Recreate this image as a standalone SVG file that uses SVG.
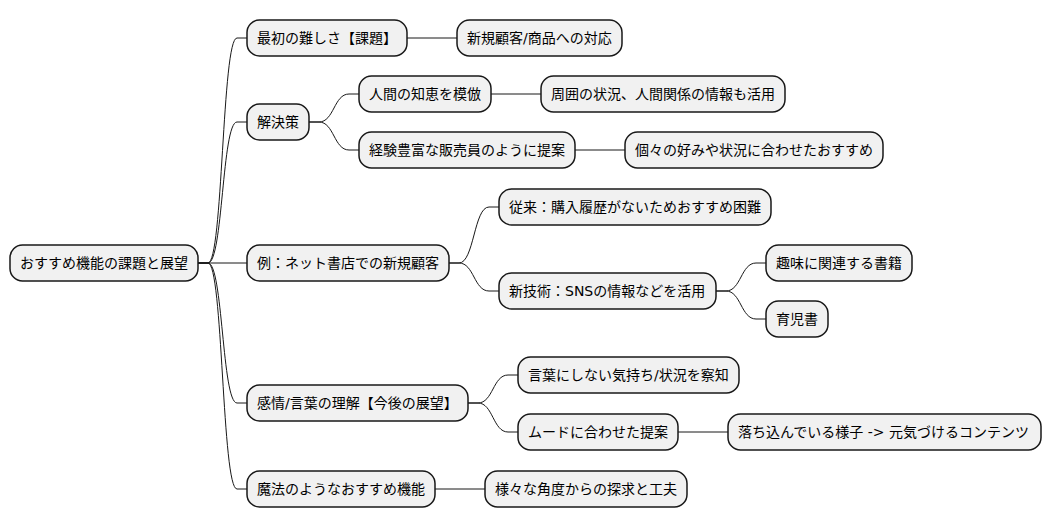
<svg xmlns="http://www.w3.org/2000/svg" width="1051" height="527" viewBox="0 0 1051 527">
<style>
.n rect{fill:#F1F1F1;stroke:#181818;stroke-width:1.5}
.n text{font-family:"DejaVu Sans","Noto Sans CJK JP",sans-serif;font-size:14px;fill:#000}
#links path{fill:none;stroke:#181818;stroke-width:1}
</style>
<rect width="1051" height="527" fill="#FFFFFF"/>
<g id="links">
<path d="M198,263 L208,263 C223,263 222,38 237,38 L247,38"/>
<path d="M198,263 L208,263 C223,263 222,122 237,122 L247,122"/>
<path d="M198,263 L247,263"/>
<path d="M198,263 L208,263 C223,263 222,403 237,403 L247,403"/>
<path d="M198,263 L208,263 C223,263 222,489 237,489 L247,489"/>
<path d="M407,38 L457,38"/>
<path d="M309,122 L319,122 C334,122 334,94 349,94 L359,94"/>
<path d="M309,122 L319,122 C334,122 334,150 349,150 L359,150"/>
<path d="M491,94 L541,94"/>
<path d="M575,150 L625,150"/>
<path d="M449,263 L459,263 C474,263 474,207 489,207 L499,207"/>
<path d="M449,263 L459,263 C474,263 474,291 489,291 L499,291"/>
<path d="M716,291 L726,291 C741,291 741,263 756,263 L766,263"/>
<path d="M716,291 L726,291 C741,291 741,319 756,319 L766,319"/>
<path d="M468,403 L478,403 C493,403 493,375 508,375 L518,375"/>
<path d="M468,403 L478,403 C493,403 493,432 508,432 L518,432"/>
<path d="M678,432 L728,432"/>
<path d="M435,489 L485,489"/>
</g>
<g id="root" class="n"><rect x="10" y="245" width="188" height="36" rx="12.5"/><text x="20" y="268">おすすめ機能の課題と展望</text></g>
<g id="n-a" class="n"><rect x="247" y="20" width="160" height="36" rx="12.5"/><text x="257" y="43">最初の難しさ【課題】</text></g>
<g id="n-a1" class="n"><rect x="457" y="20" width="165" height="36" rx="12.5"/><text x="467" y="43">新規顧客/商品への対応</text></g>
<g id="n-b" class="n"><rect x="247" y="104" width="62" height="36" rx="12.5"/><text x="257" y="127">解決策</text></g>
<g id="n-b1" class="n"><rect x="359" y="76" width="132" height="36" rx="12.5"/><text x="369" y="99">人間の知恵を模倣</text></g>
<g id="n-b1a" class="n"><rect x="541" y="76" width="244" height="36" rx="12.5"/><text x="551" y="99">周囲の状況、人間関係の情報も活用</text></g>
<g id="n-b2" class="n"><rect x="359" y="132" width="216" height="36" rx="12.5"/><text x="369" y="155">経験豊富な販売員のように提案</text></g>
<g id="n-b2a" class="n"><rect x="625" y="132" width="258" height="36" rx="12.5"/><text x="635" y="155">個々の好みや状況に合わせたおすすめ</text></g>
<g id="n-c" class="n"><rect x="247" y="245" width="202" height="36" rx="12.5"/><text x="257" y="268">例：ネット書店での新規顧客</text></g>
<g id="n-c1" class="n"><rect x="499" y="189" width="272" height="36" rx="12.5"/><text x="509" y="212">従来：購入履歴がないためおすすめ困難</text></g>
<g id="n-c2" class="n"><rect x="499" y="273" width="217" height="36" rx="12.5"/><text x="509" y="296">新技術：SNSの情報などを活用</text></g>
<g id="n-c2a" class="n"><rect x="766" y="245" width="146" height="36" rx="12.5"/><text x="776" y="268">趣味に関連する書籍</text></g>
<g id="n-c2b" class="n"><rect x="766" y="301" width="62" height="36" rx="12.5"/><text x="776" y="324">育児書</text></g>
<g id="n-d" class="n"><rect x="247" y="385" width="221" height="36" rx="12.5"/><text x="257" y="408">感情/言葉の理解【今後の展望】</text></g>
<g id="n-d1" class="n"><rect x="518" y="357" width="221" height="36" rx="12.5"/><text x="528" y="380">言葉にしない気持ち/状況を察知</text></g>
<g id="n-d2" class="n"><rect x="518" y="414" width="160" height="36" rx="12.5"/><text x="528" y="437">ムードに合わせた提案</text></g>
<g id="n-d2a" class="n"><rect x="728" y="414" width="313" height="36" rx="12.5"/><text x="738" y="437">落ち込んでいる様子 -&gt; 元気づけるコンテンツ</text></g>
<g id="n-e" class="n"><rect x="247" y="471" width="188" height="36" rx="12.5"/><text x="257" y="494">魔法のようなおすすめ機能</text></g>
<g id="n-e1" class="n"><rect x="485" y="471" width="202" height="36" rx="12.5"/><text x="495" y="494">様々な角度からの探求と工夫</text></g>
</svg>
